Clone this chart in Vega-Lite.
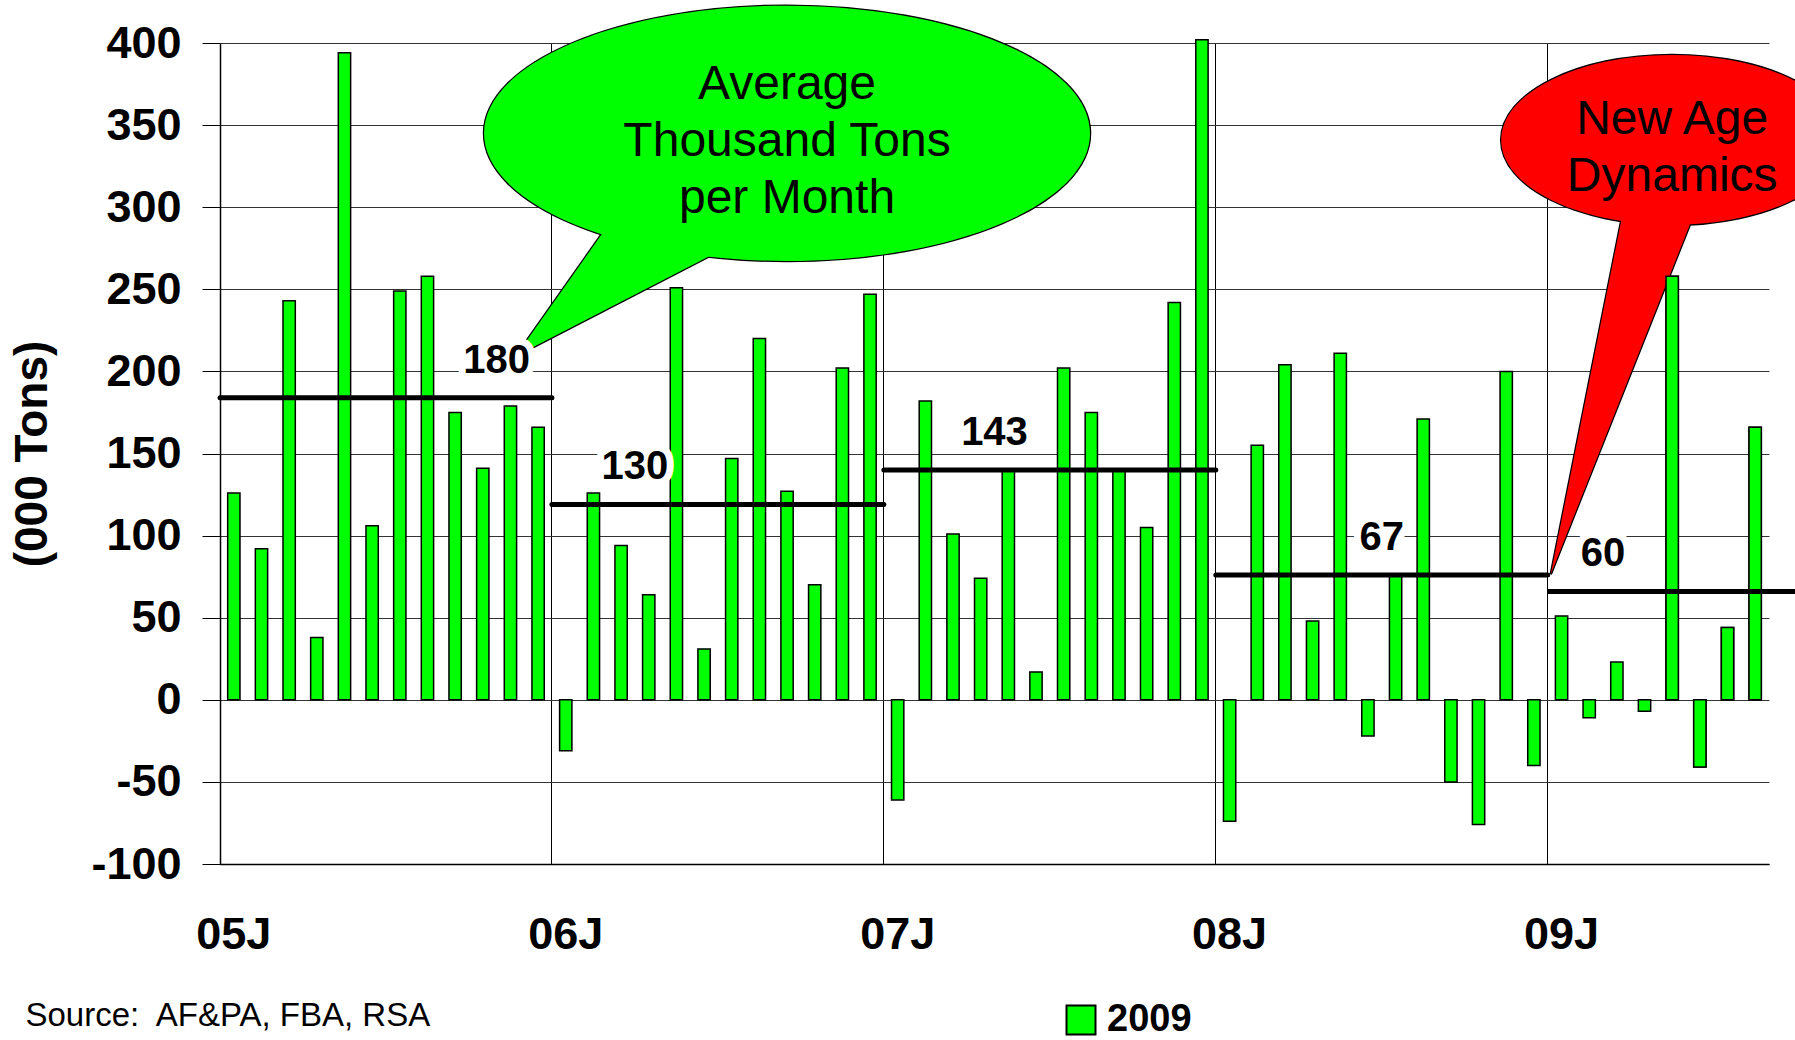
{
  "$schema": "https://vega.github.io/schema/vega-lite/v6.json",
  "width": 1549,
  "height": 821,
  "autosize": "none",
  "padding": {"left": 220, "top": 43, "right": 26, "bottom": 176},
  "background": "white",
  "config": {"view": {"stroke": null}, "font": "Liberation Sans"},
  "datasets": {
    "monthly": [
      {"month": "2005-01", "value": 126}, {"month": "2005-02", "value": 92}, {"month": "2005-03", "value": 243}, {"month": "2005-04", "value": 38},
      {"month": "2005-05", "value": 394}, {"month": "2005-06", "value": 106}, {"month": "2005-07", "value": 249}, {"month": "2005-08", "value": 258},
      {"month": "2005-09", "value": 175}, {"month": "2005-10", "value": 141}, {"month": "2005-11", "value": 179}, {"month": "2005-12", "value": 166},
      {"month": "2006-01", "value": -31}, {"month": "2006-02", "value": 126}, {"month": "2006-03", "value": 94}, {"month": "2006-04", "value": 64},
      {"month": "2006-05", "value": 251}, {"month": "2006-06", "value": 31}, {"month": "2006-07", "value": 147}, {"month": "2006-08", "value": 220},
      {"month": "2006-09", "value": 127}, {"month": "2006-10", "value": 70}, {"month": "2006-11", "value": 202}, {"month": "2006-12", "value": 247},
      {"month": "2007-01", "value": -61}, {"month": "2007-02", "value": 182}, {"month": "2007-03", "value": 101}, {"month": "2007-04", "value": 74},
      {"month": "2007-05", "value": 140}, {"month": "2007-06", "value": 17}, {"month": "2007-07", "value": 202}, {"month": "2007-08", "value": 175},
      {"month": "2007-09", "value": 140}, {"month": "2007-10", "value": 105}, {"month": "2007-11", "value": 242}, {"month": "2007-12", "value": 402},
      {"month": "2008-01", "value": -74}, {"month": "2008-02", "value": 155}, {"month": "2008-03", "value": 204}, {"month": "2008-04", "value": 48},
      {"month": "2008-05", "value": 211}, {"month": "2008-06", "value": -22}, {"month": "2008-07", "value": 76}, {"month": "2008-08", "value": 171},
      {"month": "2008-09", "value": -50}, {"month": "2008-10", "value": -76}, {"month": "2008-11", "value": 200}, {"month": "2008-12", "value": -40},
      {"month": "2009-01", "value": 51}, {"month": "2009-02", "value": -11}, {"month": "2009-03", "value": 23}, {"month": "2009-04", "value": -7},
      {"month": "2009-05", "value": 258}, {"month": "2009-06", "value": -41}, {"month": "2009-07", "value": 44}, {"month": "2009-08", "value": 166}
    ],
    "avg": [
      {"year": "2005", "start": "2005-01", "end": "2005-12", "avg": 184, "label": "180", "labelMonth": "2005-11"},
      {"year": "2006", "start": "2006-01", "end": "2006-12", "avg": 119, "label": "130", "labelMonth": "2006-04"},
      {"year": "2007", "start": "2007-01", "end": "2007-12", "avg": 140, "label": "143", "labelMonth": "2007-05"},
      {"year": "2008", "start": "2008-01", "end": "2008-12", "avg": 76, "label": "67", "labelMonth": "2008-07"},
      {"year": "2009", "start": "2009-01", "end": "2009-08", "avg": 66, "label": "60", "labelMonth": "2009-03"}
    ],
    "callouts": [
      {"name": "green", "month": "2006-09", "value": 345, "text": "Average\nThousand Tons\nper Month"},
      {"name": "red", "month": "2009-05", "value": 341, "text": "New Age\nDynamics"}
    ]
  },
  "layer": [
    {
      "data": {"name": "monthly"},
      "mark": {"type": "bar", "width": {"band": 0.445}, "stroke": "black", "strokeWidth": 1.5},
      "encoding": {
        "x": {
          "field": "month", "type": "ordinal",
          "title": "Source:\u00a0 AF&PA, FBA, RSA",
          "scale": {"paddingInner": 0, "paddingOuter": 0},
          "axis": {
            "values": ["2005-01", "2006-01", "2007-01", "2008-01", "2009-01"],
            "bandPosition": 0,
            "labelExpr": "substring(datum.value, 2, 4) + 'J'",
            "labelOffset": 0,
            "labelAngle": 0,
            "labelFontSize": 45,
            "labelFontWeight": "bold",
            "labelColor": "black",
            "labelPadding": 48,
            "labelBaseline": "top",
            "ticks": false,
            "grid": true,
            "gridColor": "black",
            "gridWidth": 1,
            "domainColor": "black",
            "domainWidth": 1.5,
            "titleFontSize": 33,
            "titleFontWeight": "normal",
            "titleColor": "black",
            "titleX": -195,
            "titleY": 161,
            "titleAlign": "left",
            "titleAnchor": "start",
            "titleBaseline": "alphabetic"
          }
        },
        "y": {
          "field": "value", "type": "quantitative",
          "title": "(000 Tons)",
          "scale": {"domain": [-100, 400], "nice": false, "zero": false},
          "axis": {
            "values": [-100, -50, 0, 50, 100, 150, 200, 250, 300, 350, 400],
            "labelExpr": "toString(datum.value)",
            "grid": true,
            "gridColor": "#333333",
            "gridWidth": 1,
            "labelFontSize": 45,
            "labelFontWeight": "bold",
            "labelColor": "black",
            "labelPadding": 21,
            "tickSize": 18,
            "tickColor": "black",
            "domainColor": "black",
            "domainWidth": 1.5,
            "titleFontSize": 46,
            "titleFontWeight": "bold",
            "titleColor": "black",
            "titlePadding": 34
          }
        },
        "color": {
          "datum": "2009", "type": "nominal",
          "scale": {"range": ["#00ff00"]},
          "legend": {
            "orient": "none", "legendX": 842, "legendY": 958,
            "title": null, "padding": 0,
            "symbolType": "square", "symbolSize": 841,
            "symbolStrokeColor": "black", "symbolStrokeWidth": 2,
            "labelFontSize": 38, "labelFontWeight": "bold", "labelColor": "black",
            "labelOffset": 7
          }
        }
      }
    },
    {
      "data": {"name": "callouts"},
      "transform": [{"filter": "datum.name === 'green'"}],
      "mark": {"type": "point", "shape": "M1,0 C1,0.2327 0.5523,0.4214 0,0.4214 C-0.5523,0.4214 -1,0.2327 -1,0 C-1,-0.2327 -0.5523,-0.4214 0,-0.4214 C0.5523,-0.4214 1,-0.2327 1,0 Z M-0.232,0.393 L-0.895,0.735 L-0.599,0.315 Z", "size": 367236, "filled": true, "fill": "#00ff00", "stroke": "black", "strokeWidth": 2.5, "opacity": 1},
      "encoding": {"x": {"field": "month", "type": "ordinal", "title": "Source:\u00a0 AF&PA, FBA, RSA"}, "y": {"field": "value", "type": "quantitative", "title": "(000 Tons)"}}
    },
    {
      "data": {"name": "callouts"},
      "transform": [{"filter": "datum.name === 'green'"}],
      "mark": {"type": "point", "shape": "M1,0 C1,0.2327 0.5523,0.4214 0,0.4214 C-0.5523,0.4214 -1,0.2327 -1,0 C-1,-0.2327 -0.5523,-0.4214 0,-0.4214 C0.5523,-0.4214 1,-0.2327 1,0 Z M-0.232,0.393 L-0.895,0.735 L-0.599,0.315 Z", "size": 367236, "filled": true, "fill": "#00ff00", "strokeWidth": 0, "opacity": 1},
      "encoding": {"x": {"field": "month", "type": "ordinal", "title": "Source:\u00a0 AF&PA, FBA, RSA"}, "y": {"field": "value", "type": "quantitative", "title": "(000 Tons)"}}
    },
    {
      "data": {"name": "callouts"},
      "transform": [{"filter": "datum.name === 'red'"}],
      "mark": {"type": "point", "shape": "M1,0 C1,0.2745 0.5523,0.497 0,0.497 C-0.5523,0.497 -1,0.2745 -1,0 C-1,-0.2745 -0.5523,-0.497 0,-0.497 C0.5523,-0.497 1,-0.2745 1,0 Z M0.145,0.391 L-0.71,2.54 L-0.278,0.372 Z", "size": 116964, "filled": true, "fill": "#ff0000", "stroke": "black", "strokeWidth": 2.5, "opacity": 1},
      "encoding": {"x": {"field": "month", "type": "ordinal", "title": "Source:\u00a0 AF&PA, FBA, RSA"}, "y": {"field": "value", "type": "quantitative", "title": "(000 Tons)"}}
    },
    {
      "data": {"name": "callouts"},
      "transform": [{"filter": "datum.name === 'red'"}],
      "mark": {"type": "point", "shape": "M1,0 C1,0.2745 0.5523,0.497 0,0.497 C-0.5523,0.497 -1,0.2745 -1,0 C-1,-0.2745 -0.5523,-0.497 0,-0.497 C0.5523,-0.497 1,-0.2745 1,0 Z M0.145,0.391 L-0.71,2.54 L-0.278,0.372 Z", "size": 116964, "filled": true, "fill": "#ff0000", "strokeWidth": 0, "opacity": 1},
      "encoding": {"x": {"field": "month", "type": "ordinal", "title": "Source:\u00a0 AF&PA, FBA, RSA"}, "y": {"field": "value", "type": "quantitative", "title": "(000 Tons)"}}
    },
    {
      "data": {"name": "monthly"},
      "transform": [{"filter": "datum.month >= '2009-05'"}],
      "mark": {"type": "bar", "width": {"band": 0.445}, "stroke": "black", "strokeWidth": 1.5, "fill": "#00ff00"},
      "encoding": {"x": {"field": "month", "type": "ordinal", "title": "Source:\u00a0 AF&PA, FBA, RSA"}, "y": {"field": "value", "type": "quantitative", "title": "(000 Tons)"}}
    },
    {
      "data": {"name": "avg"},
      "transform": [{"filter": "datum.year !== '2009'"}],
      "mark": {"type": "rule", "strokeWidth": 5, "strokeCap": "round", "color": "black"},
      "encoding": {
        "x": {"field": "start", "type": "ordinal", "bandPosition": 0, "title": "Source:\u00a0 AF&PA, FBA, RSA"},
        "x2": {"field": "end", "bandPosition": 1},
        "y": {"field": "avg", "type": "quantitative", "title": "(000 Tons)"}
      }
    },
    {
      "data": {"name": "avg"},
      "transform": [{"filter": "datum.year === '2009'"}],
      "mark": {"type": "rule", "strokeWidth": 5, "strokeCap": "butt", "color": "black"},
      "encoding": {
        "x": {"field": "start", "type": "ordinal", "bandPosition": 0, "title": "Source:\u00a0 AF&PA, FBA, RSA"},
        "x2": {"field": "end", "bandPosition": 2},
        "y": {"field": "avg", "type": "quantitative", "title": "(000 Tons)"}
      }
    },
    {
      "data": {"name": "avg"},
      "mark": {"type": "text", "dy": -37, "fontSize": 40, "fontWeight": "bold", "stroke": "white", "strokeWidth": 14, "strokeJoin": "round", "fill": "white", "baseline": "middle"},
      "encoding": {
        "x": {"field": "labelMonth", "type": "ordinal", "bandPosition": 0, "title": "Source:\u00a0 AF&PA, FBA, RSA"},
        "y": {"field": "avg", "type": "quantitative", "title": "(000 Tons)"},
        "text": {"field": "label"}
      }
    },
    {
      "data": {"name": "avg"},
      "mark": {"type": "text", "dy": -37, "fontSize": 40, "fontWeight": "bold", "fill": "black", "baseline": "middle"},
      "encoding": {
        "x": {"field": "labelMonth", "type": "ordinal", "bandPosition": 0, "title": "Source:\u00a0 AF&PA, FBA, RSA"},
        "y": {"field": "avg", "type": "quantitative", "title": "(000 Tons)"},
        "text": {"field": "label"}
      }
    },
    {
      "data": {"name": "callouts"},
      "transform": [{"filter": "datum.name === 'green'"}],
      "mark": {"type": "text", "lineBreak": "\n", "fontSize": 48, "lineHeight": 57, "dy": -48, "baseline": "middle", "align": "center", "fill": "black"},
      "encoding": {
        "x": {"field": "month", "type": "ordinal", "title": "Source:\u00a0 AF&PA, FBA, RSA"},
        "y": {"field": "value", "type": "quantitative", "title": "(000 Tons)"},
        "text": {"field": "text"}
      }
    },
    {
      "data": {"name": "callouts"},
      "transform": [{"filter": "datum.name === 'red'"}],
      "mark": {"type": "text", "lineBreak": "\n", "fontSize": 48, "lineHeight": 57, "dy": -20, "baseline": "middle", "align": "center", "fill": "black"},
      "encoding": {
        "x": {"field": "month", "type": "ordinal", "title": "Source:\u00a0 AF&PA, FBA, RSA"},
        "y": {"field": "value", "type": "quantitative", "title": "(000 Tons)"},
        "text": {"field": "text"}
      }
    }
  ]
}
